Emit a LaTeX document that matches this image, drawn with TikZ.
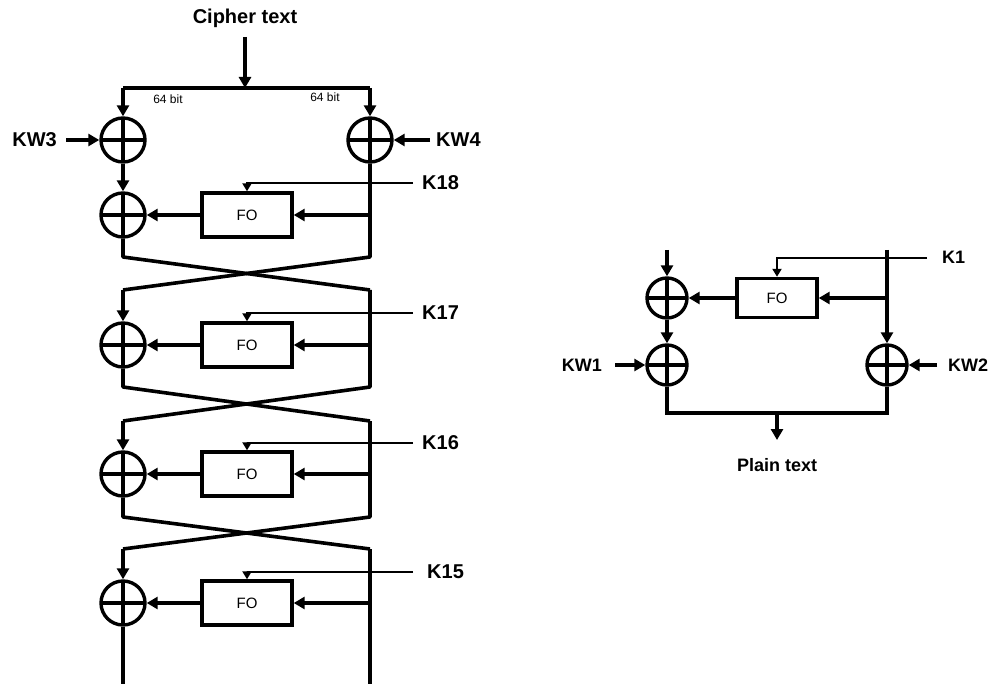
\documentclass[tikz,border=0pt]{standalone}
\usepackage{fontspec}
\setmainfont{Liberation Sans}
\usetikzlibrary{arrows.meta}
\begin{document}
\begin{tikzpicture}[x=1pt,y=-1pt,
  wire/.style={line width=3.6pt},
  arr/.style={line width=3.6pt,-{Triangle[length=11pt,width=12pt]}},
  karr/.style={line width=2.4pt,-{Triangle[length=8pt,width=9pt]}},
  xorbig/.style={circle,draw,line width=3.4pt,minimum size=44pt,inner sep=0pt,
    path picture={\draw[line width=3.4pt] (path picture bounding box.north) -- (path picture bounding box.south)
      (path picture bounding box.west) -- (path picture bounding box.east);}},
  xorsmall/.style={xorbig,minimum size=40pt},
  fobox/.style={draw,line width=3.4pt,minimum width=90pt,minimum height=44pt,inner sep=0pt,
    font=\fontsize{15}{18}\selectfont},
  foboxs/.style={fobox,minimum width=80pt,minimum height=39pt},
  lbl/.style={font=\fontsize{20}{24}\selectfont\bfseries,inner sep=0pt},
  lbls/.style={font=\fontsize{18}{22}\selectfont\bfseries,inner sep=0pt},
  small/.style={font=\fontsize{12}{14}\selectfont,inner sep=0pt}]
\useasboundingbox (0,0) rectangle (992,684);

% ---------- left: decryption rounds ----------
\node[lbl] (ct) at (245,18) {Cipher text};
\coordinate (ctin) at (245,37);
\coordinate (bm) at (245,88);
\coordinate (bl) at (123,88);
\coordinate (br) at (370,88);
\draw[arr] (ctin) -- (bm);
\draw[wire] (bl) -- (br);
\node[small] (b1) at (168,99) {64 bit};
\node[small] (b2) at (325,97) {64 bit};

\node[xorbig] (x1a) at (123,140) {};
\node[xorbig] (x1b) at (370,140) {};
\draw[arr] (bl) -- (x1a);
\draw[arr] (br) -- (x1b);
\node[lbl,anchor=east] (kw3) at (57,140) {KW3};
\coordinate (kw3e) at (66,140);
\draw[arr] (kw3e) -- (x1a);
\node[lbl,anchor=west] (kw4) at (436,140) {KW4};
\coordinate (kw4e) at (430,140);
\draw[arr] (kw4e) -- (x1b);

% round 1 (K18)
\node[xorbig] (xa) at (123,215) {};
\node[fobox] (fa) at (247,215) {FO};
\draw[arr] (x1a) -- (xa);
\coordinate (ra) at (370,215);
\coordinate (la1) at (123,257);
\coordinate (ra1) at (370,257);
\coordinate (la2) at (123,290);
\coordinate (ra2) at (370,290);
\draw[wire,line join=round] (x1b.south) -- (ra1) -- (la2);
\draw[wire,line join=round] (xa.south) -- (la1) -- (ra2);
\draw[arr] (ra) -- (fa.east);
\draw[arr] (fa.west) -- (xa.east);
\node[lbl,anchor=west] (k18) at (422,183) {K18};
\coordinate (k18e) at (413,183);
\draw[karr] (k18e) -| (fa.north);

% round 2 (K17)
\node[xorbig] (xb) at (123,345) {};
\node[fobox] (fb) at (247,345) {FO};
\draw[arr] (la2) -- (xb);
\coordinate (rb) at (370,345);
\coordinate (lb1) at (123,387);
\coordinate (rb1) at (370,387);
\coordinate (lb2) at (123,421);
\coordinate (rb2) at (370,421);
\draw[wire,line join=round] (ra2) -- (rb1) -- (lb2);
\draw[wire,line join=round] (xb.south) -- (lb1) -- (rb2);
\draw[arr] (rb) -- (fb.east);
\draw[arr] (fb.west) -- (xb.east);
\node[lbl,anchor=west] (k17) at (422,313) {K17};
\coordinate (k17e) at (413,313);
\draw[karr] (k17e) -| (fb.north);

% round 3 (K16)
\node[xorbig] (xc) at (123,474) {};
\node[fobox] (fc) at (247,474) {FO};
\draw[arr] (lb2) -- (xc);
\coordinate (rc) at (370,474);
\coordinate (lc1) at (123,517);
\coordinate (rc1) at (370,517);
\coordinate (lc2) at (123,549);
\coordinate (rc2) at (370,549);
\draw[wire,line join=round] (rb2) -- (rc1) -- (lc2);
\draw[wire,line join=round] (xc.south) -- (lc1) -- (rc2);
\draw[arr] (rc) -- (fc.east);
\draw[arr] (fc.west) -- (xc.east);
\node[lbl,anchor=west] (k16) at (422,443) {K16};
\coordinate (k16e) at (413,443);
\draw[karr] (k16e) -| (fc.north);

% round 4 (K15)
\node[xorbig] (xd) at (123,603) {};
\node[fobox] (fd) at (247,603) {FO};
\draw[arr] (lc2) -- (xd);
\coordinate (rd) at (370,603);
\coordinate (ld1) at (123,684);
\coordinate (rd1) at (370,684);
\draw[wire] (rc2) -- (rd1);
\draw[wire] (xd.south) -- (ld1);
\draw[arr] (rd) -- (fd.east);
\draw[arr] (fd.west) -- (xd.east);
\node[lbl,anchor=west] (k15) at (427,572) {K15};
\coordinate (k15e) at (413,572);
\draw[karr] (k15e) -| (fd.north);

% ---------- right: last round ----------
\node[xorsmall] (ya) at (667,298) {};
\node[xorsmall] (yb) at (667,365) {};
\node[xorsmall] (yc) at (887,365) {};
\node[foboxs] (fe) at (777,298) {FO};
\coordinate (lin) at (667,250);
\coordinate (rin) at (887,250);
\coordinate (re) at (887,298);
\draw[arr] (lin) -- (ya);
\draw[arr] (rin) -- (yc);
\draw[arr] (re) -- (fe.east);
\draw[arr] (fe.west) -- (ya.east);
\draw[arr] (ya) -- (yb);
\node[lbls,anchor=west] (k1) at (942,257) {K1};
\coordinate (k1e) at (927,258);
\draw[karr] (k1e) -| (fe.north);
\node[lbls,anchor=east] (kw1) at (602,365) {KW1};
\coordinate (kw1e) at (615,365);
\draw[arr] (kw1e) -- (yb);
\node[lbls,anchor=west] (kw2) at (948,365) {KW2};
\coordinate (kw2e) at (937,365);
\draw[arr] (kw2e) -- (yc);
\coordinate (bbl) at (667,413);
\coordinate (bbr) at (887,413);
\coordinate (bbm) at (777,413);
\coordinate (pout) at (777,440);
\draw[wire] (yb.south) -- (bbl) -- (bbr) -- (yc.south);
\draw[arr] (bbm) -- (pout);
\node[lbls] (pt) at (777,465) {Plain text};
\end{tikzpicture}
\end{document}
